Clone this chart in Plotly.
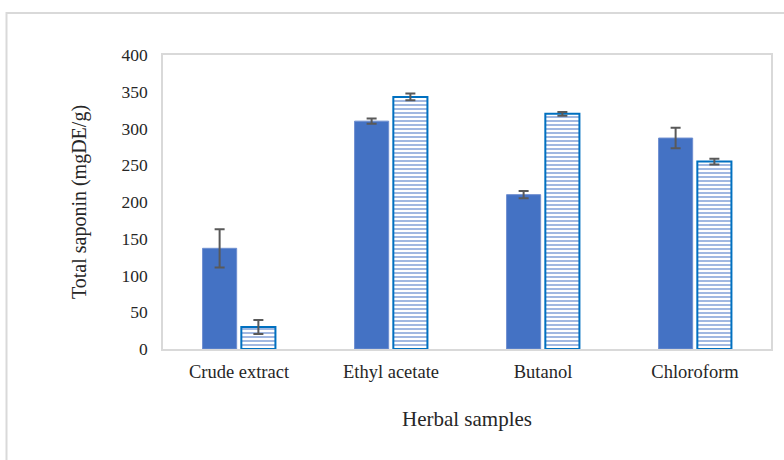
import plotly.graph_objects as go

categories = ["Crude extract", "Ethyl acetate", "Butanol", "Chloroform"]
series_a = [137, 310, 210, 287]
err_a = [26, 3.5, 5, 14]
series_b = [30, 343, 320, 255]
err_b = [9.5, 4.5, 2.5, 4]

font_family = "Liberation Serif, Times New Roman, serif"

fig = go.Figure()
fig.add_trace(go.Bar(
    x=categories, y=series_a,
    marker=dict(color="#4472C4", line=dict(color="#6F8FD0", width=1)),
    error_y=dict(type="data", array=err_a, color="#595959", thickness=2, width=5),
    showlegend=False,
))
fig.add_trace(go.Bar(
    x=categories, y=series_b,
    marker=dict(
        color="white",
        line=dict(color="#0070C0", width=2),
        pattern=dict(shape="-", fgcolor="#4472C4", bgcolor="white", size=4, solidity=0.5),
    ),
    error_y=dict(type="data", array=err_b, color="#595959", thickness=2, width=5),
    showlegend=False,
))

fig.update_layout(
    width=784, height=460,
    margin=dict(l=163, r=11, t=55, b=111),
    paper_bgcolor="white", plot_bgcolor="white",
    barmode="group", bargap=0.49, bargroupgap=0.12,
    font=dict(family=font_family, color="#262626", size=17),
    xaxis=dict(
        showline=True, linecolor="#D9D9D9", linewidth=1.5, mirror=True,
        ticks="", ticklabelstandoff=5,
        tickfont=dict(size=18.5, family=font_family, color="#262626"),
        title=dict(text="Herbal samples", font=dict(size=21, family=font_family, color="#262626"), standoff=30),
    ),
    yaxis=dict(
        range=[0, 400], dtick=50, showgrid=False, zeroline=False,
        showline=True, linecolor="#D9D9D9", linewidth=1.5, mirror=True,
        ticks="", ticklabelstandoff=10,
        tickfont=dict(size=17.5, family=font_family, color="#262626"),
        title=dict(text="Total saponin (mgDE/g)", font=dict(size=20, family=font_family, color="#262626"), standoff=30),
    ),
    shapes=[dict(
        type="rect", xref="paper", yref="paper",
        x0=-0.2574, x1=1.05, y0=-0.45, y1=1.1429,
        line=dict(color="#D9D9D9", width=2), fillcolor="rgba(0,0,0,0)", layer="below",
    )],
)

fig.write_html(
    "out.html",
    config={"displayModeBar": False},
    post_script="document.body.style.margin='0';document.body.style.overflow='hidden';",
)
